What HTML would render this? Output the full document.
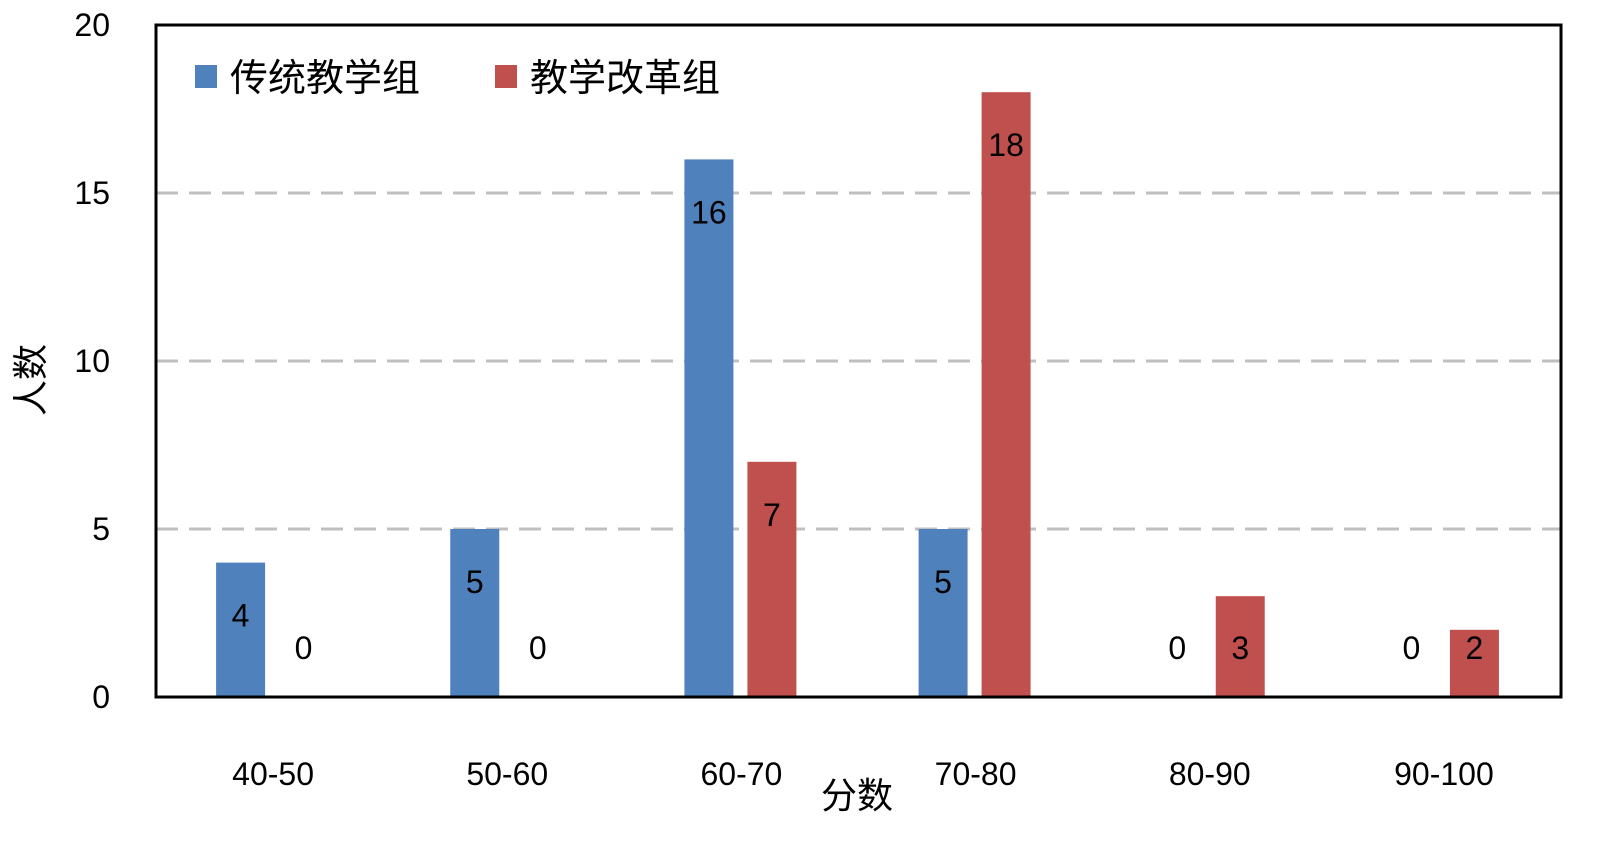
<!DOCTYPE html>
<html><head><meta charset="utf-8"><style>
html,body{margin:0;padding:0;background:#fff;}
svg text{font-family:"Liberation Sans","Noto Sans CJK SC",sans-serif;}
</style></head><body>
<svg id="chart" width="1600" height="838" xmlns="http://www.w3.org/2000/svg">
<g id="grid"></g><g id="bars"></g><g id="labels"></g><g id="axes"></g>
</svg>
<script>
const categories=["40-50","50-60","60-70","70-80","80-90","90-100"];
const traditional=[4,5,16,5,0,0];
const reform=[0,0,7,18,3,2];
const yTicks=[0,5,10,15,20];
const seriesNames=["传统教学组","教学改革组"];
const colors=["#4f81bd","#c0504d"];
const NS="http://www.w3.org/2000/svg";
const L=156,R=1561,T=25,B=697;
const y=v=>B-(v/20)*(B-T);
const bw=(R-L)/categories.length;
const cx=i=>L+bw*(i+0.5);
function mk(tag,attrs,parent,text){const e=document.createElementNS(NS,tag);for(const k in attrs)e.setAttribute(k,attrs[k]);if(text!==undefined)e.textContent=text;document.getElementById(parent)?document.getElementById(parent).appendChild(e):parent.appendChild(e);return e;}
yTicks.forEach(t=>{
 if(t>0&&t<20){const g=mk('line',{x1:L,x2:R,y1:y(t),y2:y(t),stroke:'#bfbfbf','stroke-width':3,'stroke-dasharray':'22 11'},'grid');
 
 }
 const tl=mk('text',{x:110,y:y(t)+11,'text-anchor':'end','font-size':32,fill:'#000'},'axes',String(t));
 
 
});
[traditional,reform].forEach((s,si)=>{
 s.forEach((v,i)=>{
  const x=si===0?cx(i)-57:cx(i)+6;
  if(v>0){const r=mk('rect',{x:x,y:y(v),width:49,height:B-y(v),fill:colors[si]},'bars');
  
  }
  const ly=Math.min(y(v)+53,648);
  const t=mk('text',{x:x+24.5,y:ly+11,'text-anchor':'middle','font-size':32,fill:'#000'},'labels',String(v));
  
  
 });
 const xt=mk('text',{},'labels');
});
categories.forEach((c,i)=>{
 const t=mk('text',{x:cx(i),y:785,'text-anchor':'middle','font-size':32,fill:'#000'},'axes',c);
 
 
});
const frame=mk('rect',{x:L,y:T,width:R-L,height:B-T,fill:'none',stroke:'#000','stroke-width':3},'axes');


[[195,230],[495,530]].forEach((p,i)=>{
 const sq=mk('rect',{x:p[0],y:65,width:22,height:23,fill:colors[i]},'axes');
 
 
 const lt=mk('text',{x:p[1],y:91,'font-size':38,fill:'#000'},'axes',seriesNames[i]);
 
 
});
const yt=mk('text',{x:0,y:0,'font-size':36,fill:'#000','text-anchor':'middle',transform:'translate(43,380) rotate(-90)'},'axes','人数');


const xtl=mk('text',{x:857,y:808,'font-size':36,fill:'#000','text-anchor':'middle'},'axes','分数');


</script>
</body></html>
